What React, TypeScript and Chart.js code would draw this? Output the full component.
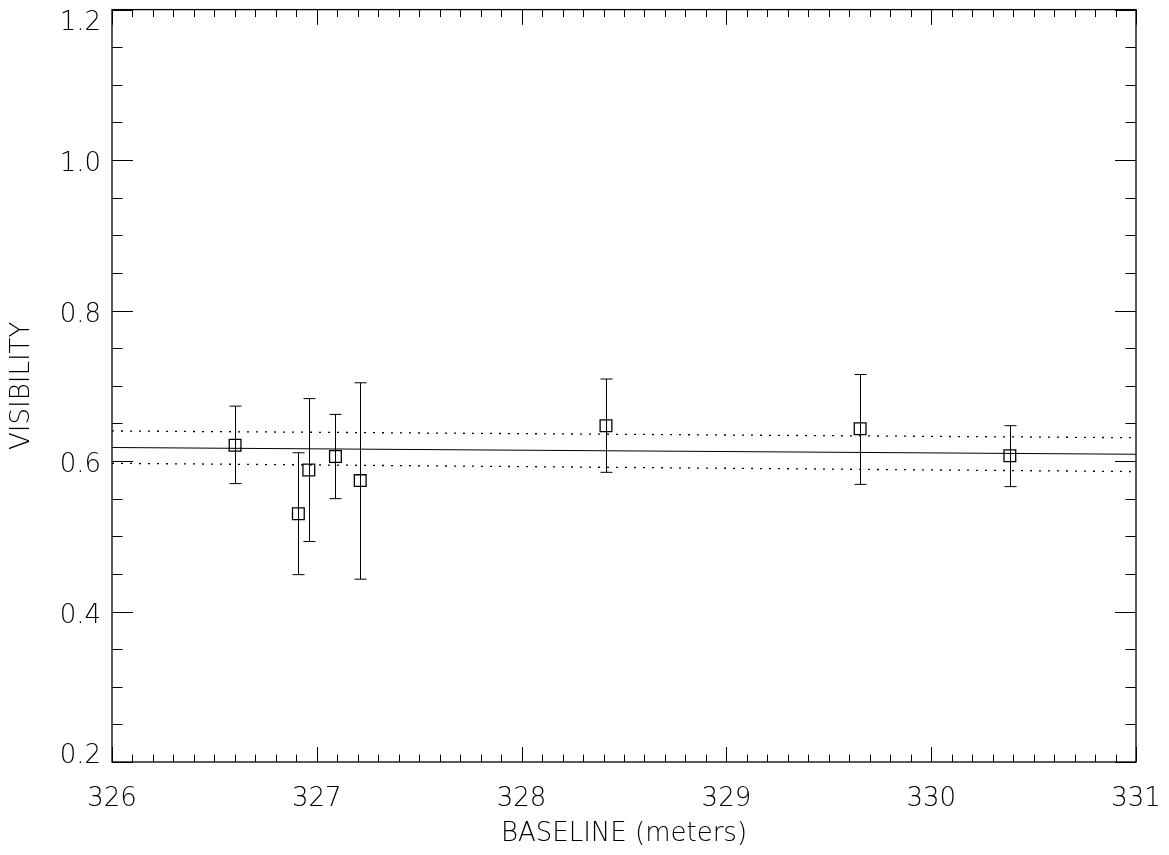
import React, { useEffect, useRef } from "react";
import { Chart, registerables } from "chart.js";

Chart.register(...registerables);

// ---- data ----
const baseline = [326.601, 326.91, 326.961, 327.091, 327.212, 328.412, 329.653, 330.384];
const visibility = [0.621, 0.53, 0.588, 0.606, 0.574, 0.647, 0.643, 0.607];
const visErrUp = [0.052, 0.081, 0.095, 0.056, 0.130, 0.062, 0.072, 0.040];
const visErrDown = [0.051, 0.081, 0.095, 0.056, 0.131, 0.062, 0.074, 0.041];

const fitX = [326, 331];
const fitY = [0.618, 0.609];
const fitUpper = [0.64, 0.631];
const fitLower = [0.597, 0.586];

const xTicks = [326, 327, 328, 329, 330, 331];
const yTicks = [0.2, 0.4, 0.6, 0.8, 1.0, 1.2];
const yTickLabels = ["0.2", "0.4", "0.6", "0.8", "1.0", "1.2"];
const xMinorPerMajor = 10;
const yMinorPerMajor = 4;

const FONT = "DejaVu Sans";

const framePlugin = {
  id: "idlFrame",
  afterDatasetsDraw(chart: any) {
    const { ctx, chartArea, scales } = chart;
    const xs = scales.x;
    const ys = scales.y;
    const { left, right, top, bottom } = chartArea;
    ctx.save();
    ctx.strokeStyle = "#000";
    // error bars
    ctx.lineWidth = 1;
    const cap = 6;
    for (let i = 0; i < baseline.length; i++) {
      const px = Math.round(xs.getPixelForValue(baseline[i])) + 0.5;
      const yHi = ys.getPixelForValue(visibility[i] + visErrUp[i]);
      const yLo = ys.getPixelForValue(visibility[i] - visErrDown[i]);
      ctx.beginPath();
      ctx.moveTo(px, yHi);
      ctx.lineTo(px, yLo);
      ctx.moveTo(px - cap, yHi);
      ctx.lineTo(px + cap, yHi);
      ctx.moveTo(px - cap, yLo);
      ctx.lineTo(px + cap, yLo);
      ctx.stroke();
    }
    // frame
    ctx.lineWidth = 1.3;
    ctx.strokeRect(left, top, right - left, bottom - top);
    // ticks
    ctx.lineWidth = 1;
    const xMajLen = 15;
    const yMajLen = 21;
    for (let k = 0; k < xTicks.length - 1; k++) {
      for (let j = 0; j <= xMinorPerMajor; j++) {
        const v = xTicks[k] + ((xTicks[k + 1] - xTicks[k]) * j) / xMinorPerMajor;
        const px = Math.round(xs.getPixelForValue(v)) + 0.5;
        const len = j === 0 || j === xMinorPerMajor ? xMajLen : xMajLen / 2;
        ctx.beginPath();
        ctx.moveTo(px, bottom);
        ctx.lineTo(px, bottom - len);
        ctx.moveTo(px, top);
        ctx.lineTo(px, top + len);
        ctx.stroke();
      }
    }
    for (let k = 0; k < yTicks.length - 1; k++) {
      for (let j = 0; j <= yMinorPerMajor; j++) {
        const v = yTicks[k] + ((yTicks[k + 1] - yTicks[k]) * j) / yMinorPerMajor;
        const py = Math.round(ys.getPixelForValue(v)) + 0.5;
        const len = j === 0 || j === yMinorPerMajor ? yMajLen : yMajLen / 2;
        ctx.beginPath();
        ctx.moveTo(left, py);
        ctx.lineTo(left + len, py);
        ctx.moveTo(right, py);
        ctx.lineTo(right - len, py);
        ctx.stroke();
      }
    }
    // y tick labels (kept inside the axis range, like the original)
    ctx.fillStyle = "#000";
    ctx.font = `200 26px "${FONT}"`;
    ctx.textAlign = "right";
    ctx.textBaseline = "alphabetic";
    const capH = 19;
    for (let i = 0; i < yTicks.length; i++) {
      const py = ys.getPixelForValue(yTicks[i]);
      let base = py + 1.5 + capH / 2;
      if (base - capH < top) base = top + 1 + capH;
      if (base > bottom + 1) base = bottom + 1;
      ctx.fillText(yTickLabels[i], left - 11, base);
    }
    ctx.restore();
  },
};

export default function App() {
  const ref = useRef<HTMLCanvasElement>(null);
  useEffect(() => {
    document.body.style.margin = "0";
    const canvas = ref.current!;
    const chart = new Chart(canvas, {
      type: "scatter",
      data: {
        datasets: [
          {
            label: "fit",
            data: fitX.map((x, i) => ({ x, y: fitY[i] })),
            showLine: true,
            borderColor: "#000",
            borderWidth: 1.2,
            pointRadius: 0,
          },
          {
            label: "upper",
            data: fitX.map((x, i) => ({ x, y: fitUpper[i] })),
            showLine: true,
            borderColor: "#000",
            borderWidth: 1.3,
            borderDash: [2, 7],
            pointRadius: 0,
          },
          {
            label: "lower",
            data: fitX.map((x, i) => ({ x, y: fitLower[i] })),
            showLine: true,
            borderColor: "#000",
            borderWidth: 1.3,
            borderDash: [2, 7],
            pointRadius: 0,
          },
          {
            label: "visibility",
            data: baseline.map((x, i) => ({ x, y: visibility[i] })),
            showLine: false,
            pointStyle: "rect",
            pointRadius: 8.3,
            pointBorderWidth: 1.3,
            pointBorderColor: "#000",
            pointBackgroundColor: "rgba(0,0,0,0)",
          },
        ],
      },
      options: {
        animation: false,
        responsive: false,
        devicePixelRatio: 1,
        layout: { padding: { left: 0, top: 8, right: 33, bottom: 0 } },
        plugins: { legend: { display: false }, tooltip: { enabled: false } },
        scales: {
          x: {
            type: "linear",
            min: xTicks[0],
            max: xTicks[xTicks.length - 1],
            afterFit: (s: any) => {
              s.height = 93;
              s.paddingLeft = 0;
              s.paddingRight = 0;
            },
            afterBuildTicks: (s: any) => {
              s.ticks = xTicks.map((v) => ({ value: v }));
            },
            grid: { display: false },
            border: { display: false },
            ticks: {
              color: "#000",
              font: { family: FONT, size: 26, weight: 200 as any },
              padding: 14,
              maxRotation: 0,
              callback: (v: any) => String(v),
            },
            title: {
              display: true,
              text: "BASELINE (meters)",
              color: "#000",
              font: { family: FONT, size: 26, weight: 200 as any },
              padding: { top: 0, bottom: 5 },
            },
          },
          y: {
            type: "linear",
            min: yTicks[0],
            max: yTicks[yTicks.length - 1],
            afterFit: (s: any) => {
              s.width = 112;
              s.paddingTop = 0;
              s.paddingBottom = 0;
            },
            afterBuildTicks: (s: any) => {
              s.ticks = yTicks.map((v) => ({ value: v }));
            },
            grid: { display: false },
            border: { display: false },
            ticks: { display: false },
            title: {
              display: true,
              text: "VISIBILITY",
              color: "#000",
              font: { family: FONT, size: 26, weight: 200 as any },
              padding: { top: 7, bottom: 0 },
            },
          },
        },
      },
      plugins: [framePlugin],
    });
    return () => chart.destroy();
  }, []);
  return (
    <div style={{ width: 1169, height: 855 }}>
      <canvas ref={ref} width={1169} height={855} style={{ display: "block" }} />
    </div>
  );
}
